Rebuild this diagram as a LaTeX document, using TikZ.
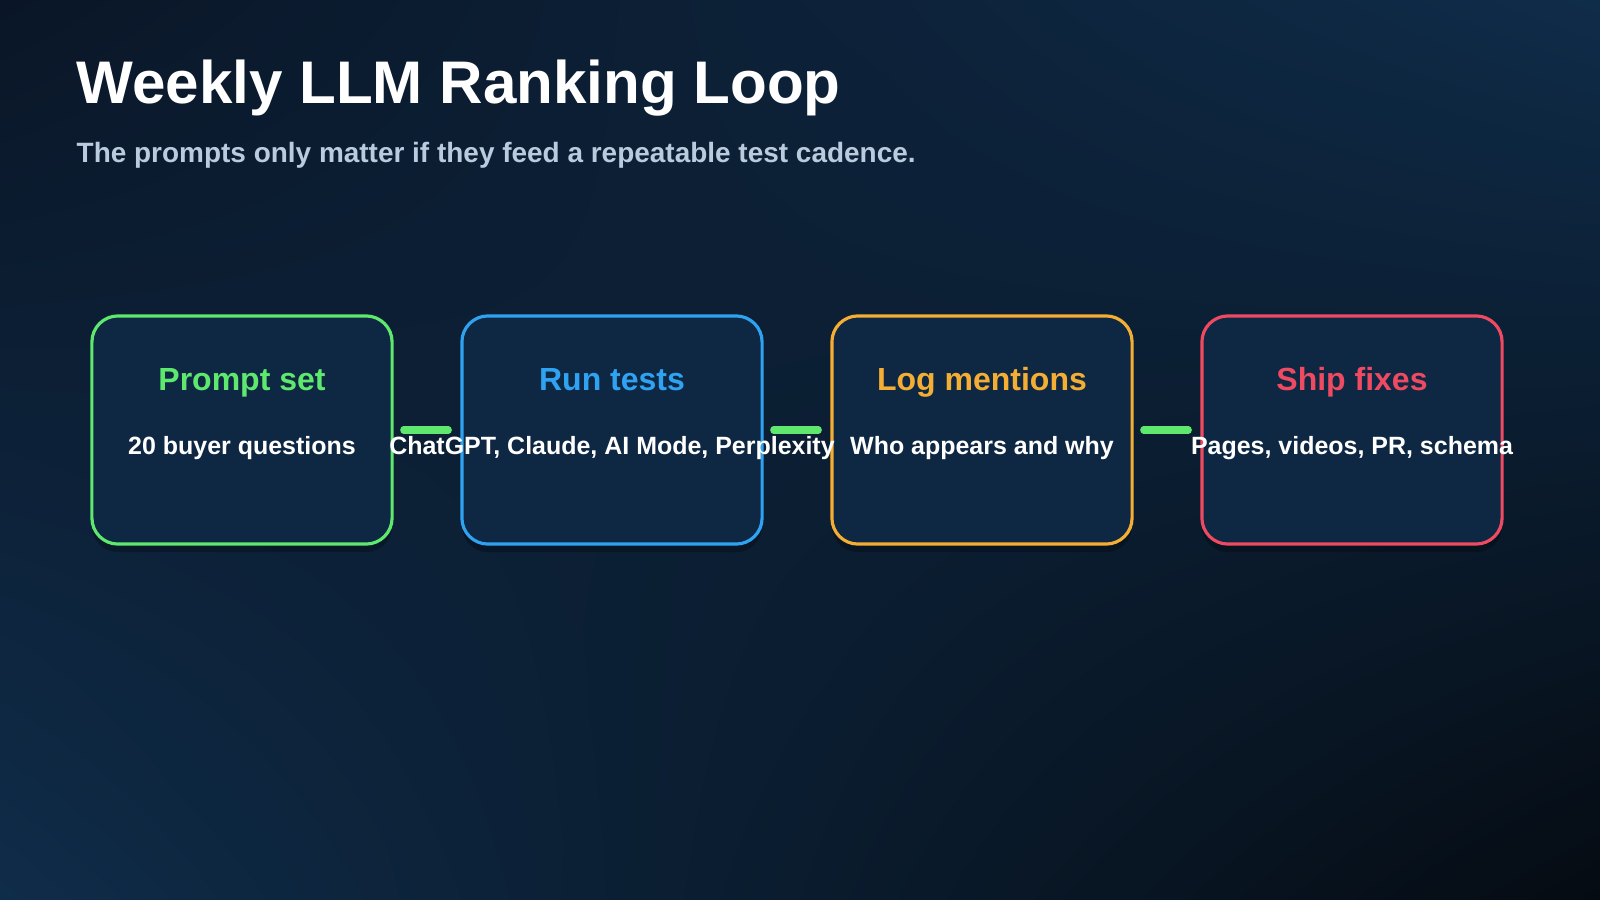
\documentclass[tikz,border=0pt]{standalone}
\usepackage{fontspec}
\setmainfont{Liberation Sans}
\usetikzlibrary{positioning,shadows,shadings}
\definecolor{bgA}{HTML}{0A1627}
\definecolor{bgB}{HTML}{0F2C49}
\definecolor{bgC}{HTML}{050B12}
\definecolor{boxfill}{HTML}{0E2742}
\definecolor{cgreen}{HTML}{5EE86E}
\definecolor{cblue}{HTML}{2FA3F2}
\definecolor{corange}{HTML}{F5AE34}
\definecolor{cred}{HTML}{EE4A62}
\definecolor{subtxt}{HTML}{B9CBDD}
\tikzset{
  step/.style={draw=#1, line width=0.9pt, rounded corners=0.26cm, fill=boxfill,
    minimum width=3.0cm, minimum height=2.28cm,
    drop shadow={shadow xshift=0pt, shadow yshift=-0.08cm, opacity=0.25, fill=black}},
  steptitle/.style={text=#1, anchor=base, font=\bfseries\fontsize{9.1pt}{10pt}\selectfont},
  stepbody/.style={text=white, anchor=base, font=\bfseries\fontsize{7.1pt}{8pt}\selectfont},
  link/.style={cgreen, line width=2pt, line cap=round, shorten <=0.1cm, shorten >=0.12cm}
}
\begin{document}
\begin{tikzpicture}[x=0.01cm, y=-0.01cm]
	\shade[upper left=bgA, upper right=bgB, lower left=bgB, lower right=bgC] (0,0) rectangle (1600,900);
	\useasboundingbox (0,0) rectangle (1600,900);
	
	\node[anchor=west, text=white, font=\bfseries\fontsize{17.1pt}{20pt}\selectfont, inner sep=0pt] (title) at (76,88) {Weekly LLM Ranking Loop};
	\node[anchor=west, text=subtxt, font=\bfseries\fontsize{7.95pt}{9pt}\selectfont, inner sep=0pt] (sub) at (76,155) {The prompts only matter if they feed a repeatable test cadence.};
	
	% steps
	\node[step=cgreen] (prompt) at (242,430) {};
	\node[step=cblue] (run) at (612,430) {};
	\node[step=corange] (log) at (982,430) {};
	\node[step=cred] (ship) at (1352,430) {};
	
	\node[steptitle=cgreen] at (242,390) {Prompt set};
	\node[stepbody] at (242,454) {20 buyer questions};
	\node[steptitle=cblue] at (612,390) {Run tests};
	\node[stepbody] at (612,454) {ChatGPT, Claude, AI Mode, Perplexity};
	\node[steptitle=corange] at (982,390) {Log mentions};
	\node[stepbody] at (982,454) {Who appears and why};
	\node[steptitle=cred] at (1352,390) {Ship fixes};
	\node[stepbody] at (1352,454) {Pages, videos, PR, schema};
	
	\draw[link] (prompt.east) -- (run.west);
	\draw[link] (run.east) -- (log.west);
	\draw[link] (log.east) -- (ship.west);
\end{tikzpicture}
\end{document}
